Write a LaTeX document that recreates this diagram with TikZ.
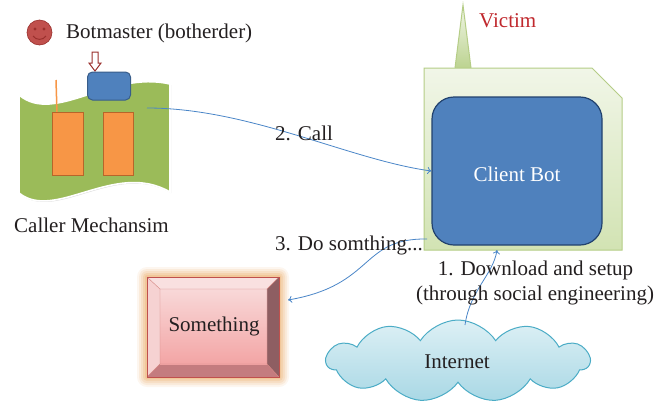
\documentclass[tikz,border=0pt]{standalone}
\usepackage{fontspec}
\setmainfont{Liberation Serif}
\usetikzlibrary{shapes.symbols,arrows.meta}

\definecolor{flaggreen}{HTML}{9BBB59}
\definecolor{accblue}{HTML}{4F81BD}
\definecolor{blueedge}{HTML}{385D8A}
\definecolor{darkblueedge}{HTML}{22426E}
\definecolor{accorange}{HTML}{F79646}
\definecolor{orangeedge}{HTML}{B7652A}
\definecolor{accred}{HTML}{C0504D}
\definecolor{darkred}{HTML}{9A302D}
\definecolor{victimred}{HTML}{C0282D}
\definecolor{victimtop}{HTML}{F1F6E8}
\definecolor{victimbot}{HTML}{D2E3B3}
\definecolor{victimedge}{HTML}{B5CD86}
\definecolor{spikebot}{HTML}{BCD390}
\definecolor{cloudtop}{HTML}{DDF0F5}
\definecolor{cloudbot}{HTML}{A9D8E5}
\definecolor{cloudedge}{HTML}{4BACC6}
\definecolor{linkblue}{HTML}{4A86C8}
\definecolor{textgray}{HTML}{231F20}
\definecolor{glow}{HTML}{EDAE68}
\definecolor{bevtop}{HTML}{F9E0E0}
\definecolor{bevleft}{HTML}{F6D2D2}
\definecolor{bevright}{HTML}{8E5E62}
\definecolor{bevbottom}{HTML}{C47C7F}
\definecolor{facetop}{HTML}{F8D8D8}
\definecolor{facebot}{HTML}{F3A5A5}

\begin{document}
\begin{tikzpicture}[x=1pt,y=-1pt,
  font=\fontsize{21}{24}\selectfont,
  link/.style={draw=linkblue, line width=0.8pt, -{To[length=4pt,width=7pt]}},
  lbl/.style={anchor=base west, inner sep=0pt, text=textgray},
  clbl/.style={anchor=base, inner sep=0pt, text=textgray}]

\useasboundingbox (0,0) rectangle (656,402);
\fill[white] (0,0) rectangle (656,402);

% --- botmaster ---------------------------------------------------------
\filldraw[fill=accred, draw=darkred, line width=0.6pt] (39.5,32.5) circle (12.5);
\fill[darkred] (35,29) circle (1.6);
\fill[darkred] (44,29) circle (1.6);
\draw[darkred, line width=1pt] (33,36) .. controls (36,40.5) and (43,40.5) .. (46,36);
\node[lbl] (botmaster) at (66,38.5) {Botmaster (botherder)};

% hollow arrow pointing at the command box
\draw[darkred, fill=white, line width=1pt]
  (92,52) -- (98,52) -- (98,63) -- (101,63) -- (95,71) -- (89,63) -- (92,63) -- cycle;

% --- caller mechanism (wave sheet) --------------------------------------
\fill[black!15]
  (20,96) .. controls (56,126) and (111,71) .. (171,85)
  -- (171,193) .. controls (116,161) and (56,223) .. (20,194) -- cycle;
\draw[fill=flaggreen, draw=white, line width=1.6pt]
  (19,95) .. controls (55,125) and (110,70) .. (170,84)
  -- (170,192) .. controls (115,160) and (55,222) .. (19,193) -- cycle;
\node[draw=blueedge, fill=accblue, rounded corners=5pt, line width=1pt,
      minimum width=43pt, minimum height=28pt, inner sep=0pt] (cmdbox) at (109,86) {};
\draw[accorange, line width=1.5pt] (56,80) -- (57,113);
\node[draw=orangeedge, fill=accorange, line width=1pt, inner sep=0pt,
      minimum width=31pt, minimum height=63pt] (slotA) at (67.5,143.5) {};
\node[draw=orangeedge, fill=accorange, line width=1pt, inner sep=0pt,
      minimum width=30pt, minimum height=63pt] (slotB) at (118,143.5) {};
\node[lbl] (caller) at (14,232) {Caller Mechansim};

% --- victim --------------------------------------------------------------
\draw[draw=victimedge, top color=victimtop, bottom color=spikebot, line width=1pt]
  (455,68) -- (463,5) -- (471,68);
\draw[draw=victimedge, top color=victimtop, bottom color=victimbot, line width=1pt]
  (424,68) -- (592,68) -- (622,98) -- (622,250) -- (424,250) -- cycle;
\node[lbl, text=victimred] (victim) at (479,27) {Victim};
\node[draw=darkblueedge, fill=accblue, rounded corners=22pt, line width=1.2pt,
      minimum width=170pt, minimum height=148pt, inner sep=0pt] (cbot) at (517,171) {};
\node[clbl, text=white] (cbotlabel) at (517,181) {Client Bot};

% --- internet --------------------------------------------------------------
\node[cloud, cloud puffs=11, cloud puff arc=115, aspect=3.4, draw=cloudedge,
      top color=cloudtop, bottom color=cloudbot, line width=1pt,
      minimum width=263pt, minimum height=82pt] (internet) at (458,361) {};
\node[clbl] (internetlabel) at (457,368) {Internet};

% --- something (bevelled button with glow) --------------------------------
\foreach \d/\o in {10/0.10, 8/0.14, 6/0.18, 4/0.24, 2/0.3}
  \fill[glow, opacity=\o, rounded corners=\d pt] (147-\d,277-\d) rectangle (279+\d,377+\d);
\fill[bevtop]    (147,277) -- (279,277) -- (267,289) -- (160,289) -- cycle;
\fill[bevleft]   (147,277) -- (160,289) -- (160,364) -- (147,377) -- cycle;
\fill[bevright]  (279,277) -- (279,377) -- (267,364) -- (267,289) -- cycle;
\fill[bevbottom] (147,377) -- (279,377) -- (267,364) -- (160,364) -- cycle;
\shade[top color=facetop, bottom color=facebot] (160,289) rectangle (267,364);
\draw[accred!70, line width=0.4pt] (147,277) -- (160,289) (279,277) -- (267,289)
  (279,377) -- (267,364) (147,377) -- (160,364) (160,289) rectangle (267,364);
\draw[accred, line width=0.8pt] (147,277) rectangle (279,377);
\node[clbl] (something) at (214,331) {Something};

% --- connectors ----------------------------------------------------------
\coordinate (callsrc) at (147,108);
\draw[link] (callsrc) .. controls (250,108) and (350,160) .. (cbot.west);
\node[lbl] (call) at (275,140) {2. Call};

\coordinate (dosrc) at (427,239);
\coordinate (dodst) at (288,300);
\draw[link] (dosrc) .. controls (360,238) and (375,285) .. (dodst);
\node[lbl] (dosomething) at (275,250) {3. Do somthing...};

\coordinate (dlsrc) at (465,325);
\coordinate (dldst) at (497,250);
\draw[link] (dlsrc) .. controls (470,290) and (493,275) .. (dldst);
\node[clbl] (download) at (535.5,275) {1. Download and setup};
\node[clbl] (social) at (535,300) {(through social engineering)};

\end{tikzpicture}
\end{document}
